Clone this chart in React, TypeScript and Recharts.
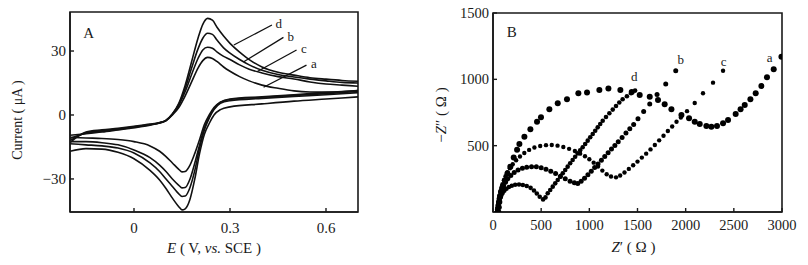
import { Label, Line, LineChart, ReferenceArea, ReferenceDot, ReferenceLine, Scatter, ScatterChart, XAxis, YAxis } from 'recharts';

const FONT = '"Liberation Serif", "Times New Roman", serif';
const INK = '#1a1a1a';

// Panel A — cyclic voltammograms, E in V, current in µA.
// Forward (anodic) scan, sampled on upperE; reverse (cathodic) scan on lowerE.
const upperE = [-0.2, -0.15, -0.1, -0.05, 0, 0.05, 0.08, 0.1, 0.12, 0.14, 0.16, 0.18, 0.2, 0.215, 0.23, 0.245, 0.26, 0.28, 0.3, 0.33, 0.36, 0.4, 0.45, 0.5, 0.55, 0.6, 0.65, 0.7];
const upperA = [-9.5, -8.8, -8, -7, -6, -4.8, -3.8, -2.7, 0, 3.5, 9, 15.5, 22, 25.5, 27, 26.5, 25, 22.5, 20.5, 18, 16, 14, 12.5, 11.3, 10.8, 10.7, 10.9, 11.5];
const upperB = [-12, -8.3, -7.3, -6.5, -5.5, -4.5, -3.6, -2.5, 0.5, 5, 12.5, 22, 31, 36, 38.3, 37.8, 35, 31.5, 29, 26, 23.5, 21, 19, 17.8, 16.8, 16, 15.3, 15];
const upperC = [-11, -8.6, -7.6, -6.8, -5.8, -4.6, -3.7, -2.5, 0.3, 4.5, 11, 19, 26.5, 30.5, 31.8, 31.3, 29.5, 27.5, 26, 23.5, 21.5, 19.7, 18, 16.9, 15.5, 14.5, 14, 13.5];
const upperD = [-13, -8, -7, -6.2, -5.3, -4.3, -3.5, -2.5, 0.5, 5.5, 14, 25, 36, 42.5, 45.3, 44.5, 41, 37, 33.6, 29.5, 26, 22.5, 20, 18.7, 17.5, 16.8, 16.2, 15.8];

const lowerE = [-0.2, -0.15, -0.1, -0.05, 0, 0.05, 0.08, 0.1, 0.12, 0.14, 0.15, 0.16, 0.175, 0.19, 0.205, 0.22, 0.235, 0.25, 0.27, 0.3, 0.4, 0.5, 0.6, 0.7];
const lowerA = [-10.5, -10.8, -11, -11.5, -12.5, -14.5, -17, -19.5, -22.5, -25.5, -26.7, -26.5, -23.5, -18, -11.5, -4.5, 0, 3.5, 6, 7.3, 8.3, 9.2, 10, 11];
const lowerB = [-13.5, -14, -14.5, -15.5, -17.8, -22.5, -26.5, -30, -33.5, -37, -38.2, -38, -34, -26, -15.5, -7, -1.5, 2.5, 5.5, 6.7, 7.8, 8.7, 9.5, 10.5];
const lowerC = [-12.5, -12.5, -13, -14, -16.4, -20, -23.5, -26.5, -30, -33, -34.2, -34, -30, -22.5, -14, -6, -1, 3, 6, 7.5, 8.5, 9.5, 10.5, 11.5];
const lowerD = [-17, -15.8, -16, -17.5, -20.5, -26, -30.5, -34.5, -39, -43, -44.5, -44, -39.5, -30, -18, -9, -4, 0, 2.5, 3.8, 5.2, 6.5, 7.5, 8.5];

const cvTicksX = [0, 0.3, 0.6];
const cvTicksY = [-30, 0, 30];

// Panel B — Nyquist plots, Z' and -Z'' in ohm.
const zReA = [55, 60, 66, 74, 85, 101, 125, 150, 180, 215, 250, 274, 326, 388, 457, 498, 585, 672, 768, 886, 976, 1104, 1198, 1322, 1440, 1523, 1627, 1713, 1782, 1852, 1956, 2035, 2094, 2146, 2215, 2267, 2325, 2388, 2440, 2519, 2570, 2613, 2672, 2727, 2786, 2844, 2914, 2994];
const zImA = [0, 35, 75, 115, 155, 191, 240, 290, 342, 410, 470, 513, 568, 623, 681, 714, 774, 819, 850, 895, 900, 920, 930, 920, 905, 882, 869, 845, 812, 774, 731, 706, 681, 664, 648, 643, 648, 669, 694, 739, 775, 807, 850, 895, 950, 1016, 1076, 1171];

const zReB = [45, 48, 52, 57, 63, 70, 80, 93, 110, 130, 155, 185, 220, 260, 305, 350, 400, 450, 500, 550, 600, 650, 700, 750, 800, 845, 880,
  915, 950, 985, 1020, 1055, 1090, 1125, 1160, 1195, 1230, 1265, 1300, 1340, 1380, 1420, 1460, 1505, 1564, 1627, 1703, 1793, 1897];
const zImB = [0, 25, 50, 75, 100, 125, 150, 175, 200, 225, 250, 275, 298, 316, 330, 338, 342, 341, 334, 322, 308, 290, 270, 250, 232, 220, 215,
  232, 255, 280, 307, 335, 362, 390, 418, 446, 474, 502, 530, 562, 595, 628, 660, 703, 758, 815, 885, 965, 1065];

const zReC = [50, 53, 57, 62, 68, 76, 86, 98, 113, 130, 150, 175, 205, 240, 280, 325, 375, 430, 490, 550, 610, 670, 730, 790, 850, 905, 955, 1000, 1045, 1090, 1135, 1180, 1225, 1277,
  1320, 1365, 1410, 1455, 1500, 1545, 1590, 1635, 1680, 1725, 1770, 1815, 1860, 1905, 1950, 2014, 2094, 2180, 2284, 2388];
const zImC = [0, 30, 60, 90, 120, 150, 180, 210, 240, 270, 300, 330, 360, 390, 418, 445, 468, 486, 498, 504, 505, 500, 490, 476, 460, 440, 420, 398, 372, 343, 312, 285, 268, 261,
  275, 298, 325, 352, 380, 410, 440, 472, 505, 540, 575, 610, 645, 680, 712, 760, 822, 895, 975, 1065];

const zReD = [40, 44, 48, 53, 59, 66, 75, 86, 100, 118, 140, 165, 195, 230, 270, 310, 350, 390, 425, 455, 485, 520,
  545, 568, 594, 620, 646, 672, 698, 724, 750, 775, 801, 827, 853, 879, 905, 931, 957, 983, 1009, 1035, 1061, 1087, 1113, 1139, 1173, 1208, 1243, 1277, 1311, 1346, 1390, 1433, 1475];
const zImD = [0, 18, 36, 54, 72, 90, 108, 126, 144, 160, 175, 188, 198, 205, 207, 204, 196, 182, 162, 140, 115, 95,
  110, 141, 166, 191, 216, 241, 266, 292, 317, 342, 367, 392, 417, 442, 465, 488, 513, 538, 563, 588, 613, 638, 663, 688, 716, 744, 772, 799, 825, 850, 873, 895, 915];

const eisTicksX = [0, 500, 1000, 1500, 2000, 2500, 3000];
const eisTicksY = [500, 1000, 1500];

const upperData = upperE.map((E, i) => ({ E, a: upperA[i], b: upperB[i], c: upperC[i], d: upperD[i] }));
const lowerData = lowerE.map((E, i) => ({ E, a: lowerA[i], b: lowerB[i], c: lowerC[i], d: lowerD[i] }));
const toPts = (xs: number[], ys: number[]) => xs.map((x, i) => ({ x, y: ys[i] }));

const tickStyle = { fill: INK, fontSize: 15, fontFamily: FONT };
const minus = (v: number) => (v < 0 ? '\u2212' + Math.abs(v) : String(v));

const dotShape = (r: number) => (p: any) => <circle cx={p.cx} cy={p.cy} r={r} fill="#000" />;

const letter = (text: string, size: number) => (p: any) => (
  <text x={p.viewBox.x} y={p.viewBox.y} textAnchor="middle" dominantBaseline="central" fontFamily={FONT} fontSize={size} fill={INK}>
    {text}
  </text>
);

// leader lines + letters for panel A
const cvNotes = [
  { k: 'd', from: [0.312, 32.8], to: [0.431, 42.2], at: [0.452, 43] },
  { k: 'b', from: [0.343, 25], to: [0.467, 36.4], at: [0.49, 37] },
  { k: 'c', from: [0.384, 20.3], to: [0.508, 30.5], at: [0.531, 31] },
  { k: 'a', from: [0.405, 13], to: [0.539, 23.4], at: [0.562, 24] },
];
const eisNotes = [
  { k: 'd', at: [1465, 1020] },
  { k: 'b', at: [1950, 1150] },
  { k: 'c', at: [2395, 1133] },
  { k: 'a', at: [2872, 1166] },
];

export default function App() {
  return (
    <div style={{ position: 'absolute', left: 0, top: 0, width: 808, height: 265, background: '#fff' }}>
      <div style={{ position: 'absolute', left: 0, top: 0 }}>
        <LineChart width={370} height={265} margin={{ top: 12, right: 12, bottom: 23, left: 20 }}>
          <XAxis
            type="number" dataKey="E" domain={[-0.2, 0.7]} ticks={cvTicksX} allowDataOverflow
            tick={tickStyle} tickSize={-4} tickMargin={14} height={30}
            axisLine={{ stroke: INK, strokeWidth: 1.6 }} tickLine={{ stroke: INK, strokeWidth: 1.4 }}
          >
            <Label
              content={(p: any) => (
                <text x={p.viewBox.x + p.viewBox.width / 2} y={p.viewBox.y + 41} textAnchor="middle" fontFamily={FONT} fontSize={15} fill={INK}>
                  <tspan fontStyle="italic">E</tspan> ( V, <tspan fontStyle="italic">vs.</tspan> SCE )
                </text>
              )}
            />
          </XAxis>
          <YAxis
            type="number" domain={[-45.5, 48.3]} ticks={cvTicksY} allowDataOverflow
            tick={tickStyle} tickFormatter={minus} tickSize={-4} tickMargin={8} width={50}
            axisLine={{ stroke: INK, strokeWidth: 1.6 }} tickLine={{ stroke: INK, strokeWidth: 1.4 }}
          >
            <Label
              content={() => (
                <text x={22} y={120} transform="rotate(-90, 22, 120)" textAnchor="middle" fontFamily={FONT} fontSize={14} fill={INK}>
                  Current ( μA )
                </text>
              )}
            />
          </YAxis>
          <ReferenceArea x1={-0.2} x2={0.7} y1={-45.5} y2={48.3} fill="none" stroke={INK} strokeWidth={1.6} />
          {(['a', 'b', 'c', 'd'] as const).map((k) => (
            <Line key={'u' + k} data={upperData} dataKey={k} type="monotone" stroke="#111" strokeWidth={1.6} dot={false} isAnimationActive={false} />
          ))}
          {(['a', 'b', 'c', 'd'] as const).map((k) => (
            <Line key={'l' + k} data={lowerData} dataKey={k} type="monotone" stroke="#111" strokeWidth={1.6} dot={false} isAnimationActive={false} />
          ))}
          {cvNotes.map((n) => (
            <ReferenceLine key={'ln' + n.k} segment={[{ x: n.from[0], y: n.from[1] }, { x: n.to[0], y: n.to[1] }]} stroke="#111" strokeWidth={1.3} />
          ))}
          {cvNotes.map((n) => (
            <ReferenceDot key={'lb' + n.k} x={n.at[0]} y={n.at[1]} r={0} fill="none" stroke="none" label={letter(n.k, 13)} />
          ))}
          <ReferenceDot x={-0.142} y={38.4} r={0} fill="none" stroke="none" label={letter('A', 15)} />
        </LineChart>
      </div>
      <div style={{ position: 'absolute', left: 400, top: 0 }}>
        <ScatterChart width={408} height={265} margin={{ top: 13, right: 26, bottom: 23, left: 43 }}>
          <XAxis
            type="number" dataKey="x" domain={[0, 3000]} ticks={eisTicksX} allowDataOverflow
            tick={{ ...tickStyle, fontSize: 14.5 }} tickSize={-4} tickMargin={12} height={30}
            axisLine={{ stroke: INK, strokeWidth: 1.6 }} tickLine={{ stroke: INK, strokeWidth: 1.4 }}
          >
            <Label
              content={(p: any) => (
                <text x={p.viewBox.x + p.viewBox.width / 2 - 4} y={p.viewBox.y + 40} textAnchor="middle" fontFamily={FONT} fontSize={15} fill={INK}>
                  <tspan fontStyle="italic">Z</tspan>′ ( Ω )
                </text>
              )}
            />
          </XAxis>
          <YAxis
            type="number" dataKey="y" domain={[0, 1500]} ticks={eisTicksY} allowDataOverflow
            tick={{ ...tickStyle, fontSize: 14.5 }} tickSize={-4} tickMargin={8} width={50}
            axisLine={{ stroke: INK, strokeWidth: 1.6 }} tickLine={{ stroke: INK, strokeWidth: 1.4 }}
          >
            <Label
              content={() => (
                <text x={46} y={115} transform="rotate(-90, 46, 115)" textAnchor="middle" fontFamily={FONT} fontSize={15} fill={INK}>
                  −<tspan fontStyle="italic">Z</tspan>″ ( Ω )
                </text>
              )}
            />
          </YAxis>
          <ReferenceArea x1={0} x2={3000} y1={0} y2={1500} fill="none" stroke={INK} strokeWidth={1.6} />
          <Scatter data={toPts(zReA, zImA)} shape={dotShape(3)} isAnimationActive={false} />
          <Scatter data={toPts(zReB, zImB)} shape={dotShape(2.5)} isAnimationActive={false} />
          <Scatter data={toPts(zReC, zImC)} shape={dotShape(2.2)} isAnimationActive={false} />
          <Scatter data={toPts(zReD, zImD)} shape={dotShape(2.3)} isAnimationActive={false} />
          {eisNotes.map((n) => (
            <ReferenceDot key={'e' + n.k} x={n.at[0]} y={n.at[1]} r={0} fill="none" stroke="none" label={letter(n.k, 13)} />
          ))}
          <ReferenceDot x={194} y={1357} r={0} fill="none" stroke="none" label={letter('B', 15)} />
        </ScatterChart>
      </div>
    </div>
  );
}
